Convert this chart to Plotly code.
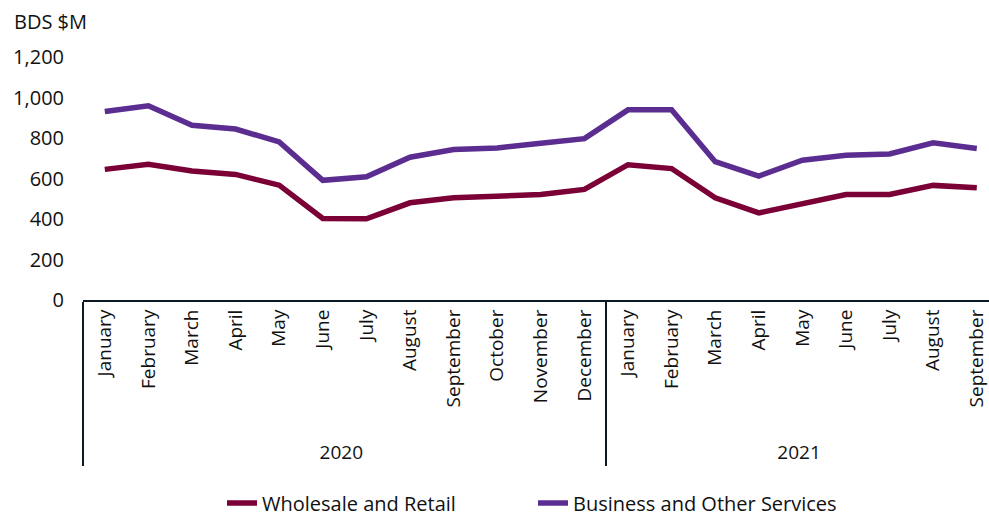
import plotly.graph_objects as go

years = ["2020"] * 12 + ["2021"] * 9
months = ["January", "February", "March", "April", "May", "June", "July", "August",
          "September", "October", "November", "December",
          "January", "February", "March", "April", "May", "June", "July", "August", "September"]

wholesale_retail = [645, 670, 637, 620, 567, 403, 401, 480, 505, 510, 521, 546,
                    668, 649, 505, 430, 476, 521, 521, 566, 554]
business_other = [931, 959, 863, 844, 781, 591, 609, 705, 743, 751, 774, 797,
                  939, 939, 683, 612, 690, 715, 721, 776, 748]

FONT = "Open Sans"
# pad month labels at their start so the year row sits lower, as in the reference
month_labels = ["\u00a0\u00a0\u00a0" + m for m in months]

fig = go.Figure()
fig.add_trace(go.Scatter(x=[years, month_labels], y=wholesale_retail, mode="lines",
                         name="Wholesale and Retail",
                         line=dict(color="#7a0036", width=5.5)))
fig.add_trace(go.Scatter(x=[years, month_labels], y=business_other, mode="lines",
                         name="Business and Other Services",
                         line=dict(color="#5b2d90", width=5.5)))

fig.update_layout(
    width=989, height=516,
    margin=dict(l=83, r=0, t=57, b=216),
    paper_bgcolor="white", plot_bgcolor="white",
    font=dict(family=FONT, size=19, color="#111111"),
    showlegend=True,
    legend=dict(orientation="h", x=222 / 989, xanchor="left", xref="container",
                y=0.025, yanchor="middle", yref="container",
                entrywidth=266, entrywidthmode="pixels",
                font=dict(family=FONT, size=20, color="#111111")),
    annotations=[dict(text="BDS $M", xref="paper", yref="paper",
                      x=-0.078, y=1.145, xanchor="left", yanchor="middle",
                      showarrow=False, font=dict(family=FONT, size=20, color="#111111"))],
)
fig.update_yaxes(range=[0, 1200], dtick=200, tickformat=",", showgrid=False,
                 zeroline=False, showline=False, ticks="", ticklabelstandoff=18,
                 tickfont=dict(size=20))
fig.update_xaxes(type="multicategory", range=[-0.5, 20.28], showgrid=False,
                 showline=True, linecolor="#0d1a26", linewidth=2, ticks="",
                 tickangle=-90, showdividers=True, dividercolor="#0d1a26",
                 dividerwidth=2, tickfont=dict(size=19))

fig.write_html("out.html")
